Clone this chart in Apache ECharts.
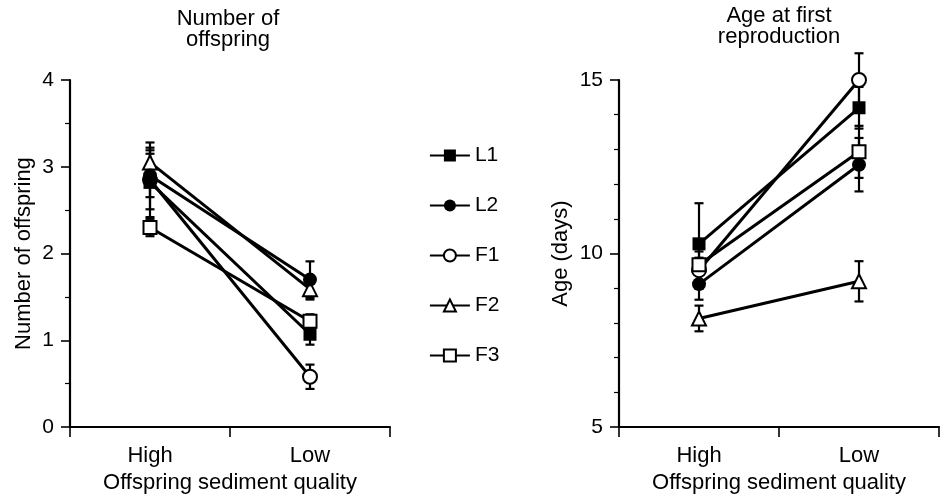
<!DOCTYPE html>
<html>
<head>
<meta charset="utf-8">
<script src="https://cdn.jsdelivr.net/npm/echarts@6/dist/echarts.min.js"></script>
<style>
html,body{margin:0;padding:0;background:#fff;}
#main{width:941px;height:499px;}
</style>
</head>
<body>
<div id="main"></div>
<script>
// ---- data ----
const categories = ['High', 'Low'];
const seriesNames = ['L1', 'L2', 'F1', 'F2', 'F3'];
const seriesSymbols = ['rect', 'circle', 'emptyCircle', 'emptyTriangle', 'emptyRect'];
const drawOrder = [2, 3, 4, 0, 1]; // F1, F2, F3 below L1, L2

// Number of offspring (mean, error) at High / Low
const offL1 = [2.82, 1.07], offL1Err = [0.40, 0.12];
const offL2 = [2.90, 1.70], offL2Err = [0.25, 0.21];
const offF1 = [2.85, 0.58], offF1Err = [0.34, 0.14];
const offF2 = [3.05, 1.59], offF2Err = [0.23, 0.12];
const offF3 = [2.30, 1.22], offF3Err = [0.10, 0.08];

// Age at first reproduction (days)
const ageL1 = [10.28, 14.20], ageL1Err = [1.17, 0.60];
const ageL2 = [9.12, 12.56], ageL2Err = [0.45, 0.77];
const ageF1 = [9.52, 15.00], ageF1Err = [0.54, 0.77];
const ageF2 = [8.13, 9.20], ageF2Err = [0.37, 0.58];
const ageF3 = [9.68, 12.93], ageF3Err = [0.20, 0.75];

const offYTicks = [0, 4, 1];   // min, max, interval
const ageYTicks = [5, 15, 5];

const offMeans = [offL1, offL2, offF1, offF2, offF3];
const offErrs = [offL1Err, offL2Err, offF1Err, offF2Err, offF3Err];
const ageMeans = [ageL1, ageL2, ageF1, ageF2, ageF3];
const ageErrs = [ageL1Err, ageL2Err, ageF1Err, ageF2Err, ageF3Err];

// ---- chart ----
const FONT = '"Liberation Sans", Arial, Helvetica, sans-serif';
const chart = echarts.init(document.getElementById('main'), null, {renderer: 'canvas'});

function xAxis(gi) {
  return {
    type: 'category', gridIndex: gi, data: categories, boundaryGap: true,
    axisLine: {lineStyle: {color: '#000', width: 2.2}},
    axisTick: {show: true, inside: false, length: 10, alignWithLabel: false, lineStyle: {color: '#000', width: 1.6}},
    axisLabel: {color: '#000', fontSize: 22, fontFamily: FONT, margin: 18},
    name: 'Offspring sediment quality', nameLocation: 'middle', nameGap: 42,
    nameTextStyle: {color: '#000', fontSize: 22, fontFamily: FONT},
    splitLine: {show: false}
  };
}
function yAxis(gi, ticks, minorSplit, name, gap) {
  return {
    type: 'value', gridIndex: gi, min: ticks[0], max: ticks[1], interval: ticks[2],
    axisLine: {show: true, lineStyle: {color: '#000', width: 2.2}},
    axisTick: {show: true, inside: false, length: 9, lineStyle: {color: '#000', width: 1.6}},
    minorTick: {show: true, splitNumber: minorSplit, length: 5, lineStyle: {color: '#000', width: 1.2}},
    axisLabel: {color: '#000', fontSize: 21, fontFamily: FONT, margin: 16},
    splitLine: {show: false}, minorSplitLine: {show: false},
    name: name, nameLocation: 'middle', nameGap: gap, nameRotate: 90,
    nameTextStyle: {color: '#000', fontSize: 22, fontFamily: FONT}
  };
}

function errorSeries(gi, means, errs) {
  const data = [];
  means.forEach((m, si) => {
    m.forEach((v, ci) => data.push([ci, v, errs[si][ci]]));
  });
  return {
    type: 'custom', xAxisIndex: gi, yAxisIndex: gi, z: 1, silent: true,
    data: data,
    renderItem: function (params, api) {
      const x = api.value(0), y = api.value(1), e = api.value(2);
      const top = api.coord([x, y + e]);
      const bot = api.coord([x, y - e]);
      const w = 4.5;
      const st = {stroke: '#000', lineWidth: 2.2};
      return {type: 'group', children: [
        {type: 'line', shape: {x1: top[0], y1: top[1], x2: bot[0], y2: bot[1]}, style: st},
        {type: 'line', shape: {x1: top[0] - w, y1: top[1], x2: top[0] + w, y2: top[1]}, style: st},
        {type: 'line', shape: {x1: bot[0] - w, y1: bot[1], x2: bot[0] + w, y2: bot[1]}, style: st}
      ]};
    }
  };
}

function lineSeries(gi, means) {
  return drawOrder.map((si, k) => {
    const n = seriesNames[si];
    const sym = seriesSymbols[si];
    const empty = sym.indexOf('empty') === 0;
    return {
      name: n, type: 'line', xAxisIndex: gi, yAxisIndex: gi, z: 3 + k * 0.01,
      data: means[si],
      symbol: sym,
      symbolSize: sym.indexOf('Triangle') > -1 ? 14 : (sym.indexOf('ircle') > -1 ? 14 : 13),
      showSymbol: true,
      lineStyle: {color: '#000', width: 3},
      itemStyle: {color: '#000', borderColor: '#000', borderWidth: empty ? 2 : 0},
      emphasis: {disabled: true},
      animation: false
    };
  });
}

const option = {
  backgroundColor: '#fff',
  animation: false,
  textStyle: {fontFamily: FONT},
  grid: [
    {left: 70, top: 80, width: 320, height: 352, containLabel: false},
    {left: 619, top: 80, width: 320, height: 352, containLabel: false}
  ],
  xAxis: [xAxis(0), xAxis(1)],
  yAxis: [
    yAxis(0, offYTicks, 2, 'Number of offspring', 35),
    yAxis(1, ageYTicks, 5, 'Age (days)', 47)
  ],
  legend: {
    data: seriesNames, orient: 'vertical', left: 424, top: 140,
    itemWidth: 40, itemHeight: 15, itemGap: 29, selectedMode: false,
    lineStyle: {width: 1.8},
    textStyle: {color: '#000', fontSize: 21, fontFamily: FONT, lineHeight: 20}
  },
  graphic: [
    {type: 'text', x: 228, y: 8, style: {text: 'Number of\noffspring', textAlign: 'center', textVerticalAlign: 'top', fontSize: 22, fontFamily: FONT, fill: '#000', lineHeight: 21}},
    {type: 'text', x: 779, y: 5, style: {text: 'Age at first\nreproduction', textAlign: 'center', textVerticalAlign: 'top', fontSize: 22, fontFamily: FONT, fill: '#000', lineHeight: 21}}
  ],
  series: [
    errorSeries(0, offMeans, offErrs),
    errorSeries(1, ageMeans, ageErrs)
  ].concat(lineSeries(0, offMeans), lineSeries(1, ageMeans))
};
chart.setOption(option);
</script>
</body>
</html>
